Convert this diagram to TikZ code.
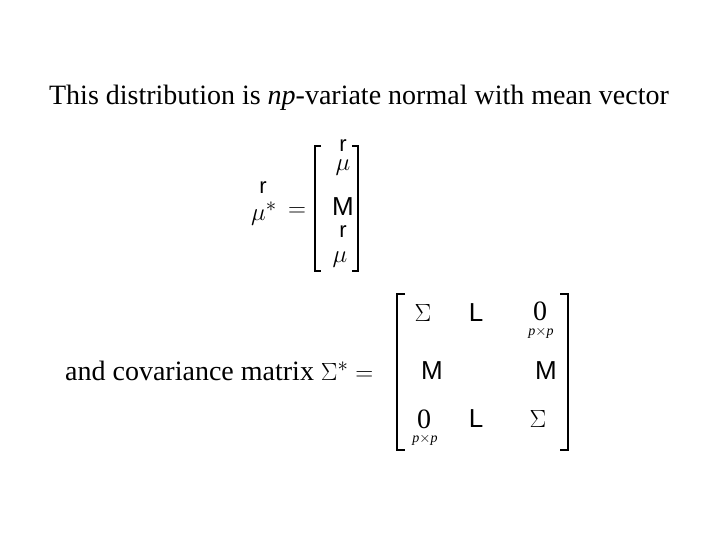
\documentclass[tikz,border=0pt]{standalone}
\usepackage{fontspec}
\setmainfont{Liberation Serif}
\newfontfamily\ssf{Liberation Sans}
\begin{document}
\begin{tikzpicture}[x=1pt,y=-1pt,
  t/.style={inner sep=0pt,font=\fontsize{28}{32}\selectfont},
  s/.style={inner sep=0pt,font=\ssf\fontsize{26}{30}\selectfont},
  r/.style={inner sep=0pt,font=\ssf\fontsize{22}{26}\selectfont},
  sm/.style={inner sep=0pt,font=\fontsize{14}{16}\selectfont\itshape},
  br/.style={line width=1.2pt}]
\useasboundingbox (0,0) rectangle (720,540);
\node[t] (title) at (359,98) {This distribution is \textit{np}-variate normal with mean vector};
% mean vector
\node[r] (rl) at (263,188) {r};
\node[t] (mul) at (264,214) {$\mu^{*}$};
\node[t] (eq1) at (297,212) {$=$};
\draw[br] (321,146) -- (315,146) -- (315,271) -- (321,271);
\draw[br] (352,146) -- (358,146) -- (358,271) -- (352,271);
\node[r] (r1) at (343,146) {r};
\node[t] (m1) at (343,168) {$\mu$};
\node[s] (M1) at (343,207) {M};
\node[r] (r2) at (343,232) {r};
\node[t] (m2) at (340,260) {$\mu$};
% covariance
\node[t,anchor=west] (cov) at (65,371) {and covariance matrix $\Sigma^{*}=$};
\draw[br] (405,294) -- (397,294) -- (397,450) -- (405,450);
\draw[br] (560,294) -- (568,294) -- (568,450) -- (560,450);
\node[t] (S1) at (423,313) {$\Sigma$};
\node[s] (L1) at (476,313) {L};
\node[t] (z1) at (540,311) {0};
\node[sm] (pp1) at (541,333) {p$\times$p};
\node[s] (M2) at (432,371) {M};
\node[s] (M3) at (546,371) {M};
\node[t] (z2) at (424,419) {0};
\node[sm] (pp2) at (425,440) {p$\times$p};
\node[s] (L2) at (476,419) {L};
\node[t] (S2) at (538,419) {$\Sigma$};
\end{tikzpicture}
\end{document}
